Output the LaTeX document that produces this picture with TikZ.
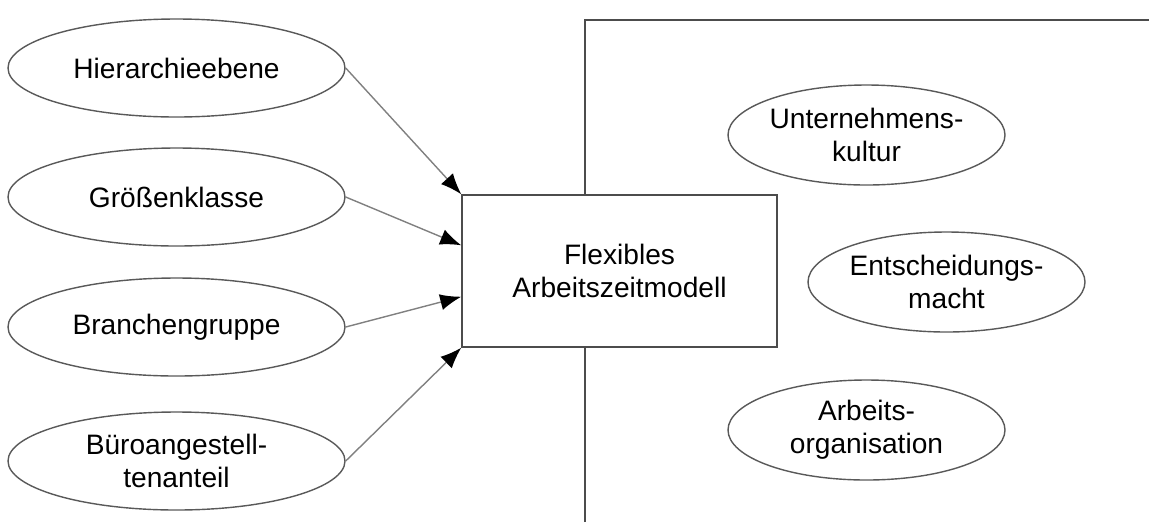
\documentclass[tikz,border=0pt]{standalone}
\usepackage{fontspec}
\setmainfont{Liberation Sans}
\usepackage{tikz}
\usetikzlibrary{arrows.meta,shapes,positioning}

\begin{document}
\begin{tikzpicture}[x=1cm,y=-1cm,font=\fontsize{8}{9.4}\selectfont]
\tikzset{oval/.style = {draw=black!65,ellipse,minimum width=3.37cm,minimum height=0.98cm,inner sep=0pt,align=center}}
\tikzset{edge/.style = {-{Latex[length=6pt,width=4.6pt,black]},draw=black!50,line width=.4pt}}
\useasboundingbox (0,0) rectangle (11.49,5.22);
%\draw[step=1,color=gray] (0,0) grid (11.49,5.22);
%frame on the right
\draw[black!70] (5.85,5.22) -- (5.85,0.2) -- (11.49,0.2);
%left ovals
\node[oval] (hier) at (1.765,0.68) {Hierarchieebene};
\node[oval] (groe) at (1.765,1.97) {Größenklasse};
\node[oval] (bran) at (1.765,3.27) {Branchengruppe};
\node[oval] (buero) at (1.765,4.61) {Büroangestell-\\tenanteil};
%box in the middle
\node[draw=black!70,fill=white,minimum width=3.15cm,minimum height=1.52cm,align=center] (fam) at (6.195,2.71) {Flexibles\\Arbeitszeitmodell};
%ovals inside the frame
\node[oval,minimum width=2.77cm,minimum height=1cm] (kult) at (8.665,1.35) {Unternehmens-\\kultur};
\node[oval,minimum width=2.77cm,minimum height=1cm] (macht) at (9.465,2.82) {Entscheidungs-\\macht};
\node[oval,minimum width=2.77cm,minimum height=1cm] (orga) at (8.665,4.30) {Arbeits-\\organisation};
%arrows into the box
\draw[edge] (hier.east) to (fam.north west);
\draw[edge] (groe.east) to ([yshift=-.51cm]fam.north west);
\draw[edge] (bran.east) to ([yshift=.51cm]fam.south west);
\draw[edge] (buero.east) to (fam.south west);
\end{tikzpicture}
\end{document}
